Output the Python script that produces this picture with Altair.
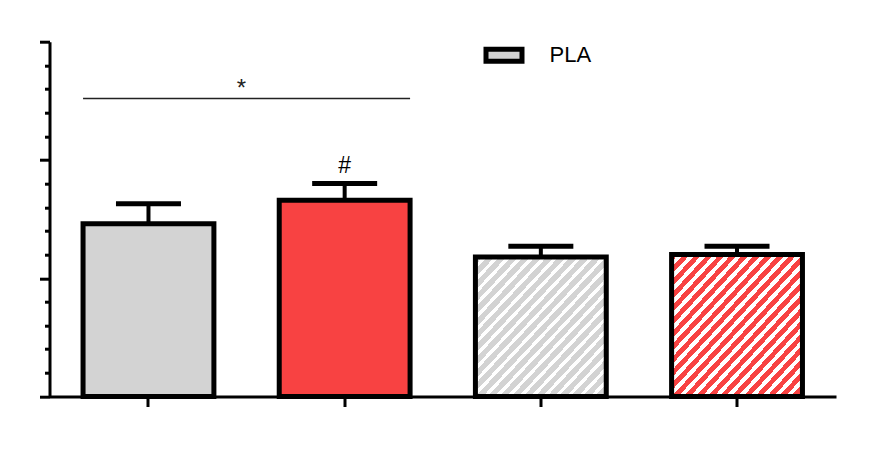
import altair as alt
import pandas as pd

# ---- data ----
groups = ["PLA", "SUP", "PLA-T", "SUP-T"]
means = [1.46, 1.66, 1.18, 1.20]
errs = [1.63, 1.80, 1.27, 1.27]
marks = ["", "#", "", ""]
legend_labels = ["PLA"]
y_ticks = [0.0, 0.2, 0.4, 0.6, 0.8, 1.0, 1.2, 1.4, 1.6, 1.8, 2.0,
           2.2, 2.4, 2.6, 2.8, 3.0]
sig_start = ["PLA"]
sig_end = ["SUP"]
sig_y = [2.52]
sig_label = ["*"]

GREY = "#d3d3d3"
RED = "#f84242"
FONT = "Liberation Sans"

df = pd.DataFrame({"group": groups, "mean": means, "err": errs, "mark": marks})
sig = pd.DataFrame({"start": sig_start, "end": sig_end, "y": sig_y, "label": sig_label})


def stripes(color, frac, n=22):
    stops = []
    for k in range(n):
        a = k / n
        b = (k + frac) / n
        c = (k + 1) / n
        stops += [
            alt.GradientStop(color=color, offset=a),
            alt.GradientStop(color=color, offset=b),
            alt.GradientStop(color="white", offset=b),
            alt.GradientStop(color="white", offset=c),
        ]
    return alt.LinearGradient(gradient="linear", stops=stops, x1=0, y1=0, x2=1, y2=1)


xscale = alt.Scale(domain=groups, paddingInner=0.333, paddingOuter=0.171)
yscale = alt.Scale(domain=[0, 3], nice=False, zero=True)

x_enc = alt.X("group:N", scale=xscale, sort=groups,
              axis=alt.Axis(labels=False, title=None, grid=False, ticks=True,
                            tickSize=10, tickWidth=3, tickColor="black",
                            domainWidth=3, domainColor="black"))
x_plain = alt.X("group:N", scale=xscale, sort=groups)

y_axis = alt.Axis(values=y_ticks, tickCount=40, labels=False, labelOverlap=False,
                  title=None, grid=False,
                  domainWidth=3, domainColor="black", tickColor="black", tickWidth=3,
                  tickSize={"condition": {"test": "abs(datum.value - round(datum.value)) < 0.001",
                                          "value": 10}, "value": 5})

solid = alt.Chart(df).transform_filter(
    alt.FieldOneOfPredicate(field="group", oneOf=["PLA", "SUP"])
).mark_bar(stroke="black", strokeWidth=5, opacity=1).encode(
    x=x_enc,
    y=alt.Y("mean:Q", scale=yscale, axis=y_axis),
    fill=alt.Fill("group:N",
                  scale=alt.Scale(domain=["PLA", "SUP"], range=[GREY, RED]),
                  legend=alt.Legend(title=None, orient="none", legendX=440, legendY=-1,
                                    values=legend_labels,
                                    symbolType="M-1.5,-0.5H1.5V0.5H-1.5Z",
                                    symbolSize=576, symbolStrokeColor="black",
                                    symbolStrokeWidth=5, symbolOpacity=1,
                                    labelFontSize=22, labelFont=FONT, labelColor="black",
                                    labelOffset=31, padding=0)),
)

hatch_grey = alt.Chart(df).transform_filter(alt.datum.group == "PLA-T").mark_bar(
    fill=stripes(GREY, 0.62), stroke="black", strokeWidth=5, opacity=1
).encode(x=x_plain, y=alt.Y("mean:Q", scale=yscale))

hatch_red = alt.Chart(df).transform_filter(alt.datum.group == "SUP-T").mark_bar(
    fill=stripes(RED, 0.55), stroke="black", strokeWidth=5, opacity=1
).encode(x=x_plain, y=alt.Y("mean:Q", scale=yscale))

stems = alt.Chart(df).mark_rule(color="black", strokeWidth=4).encode(
    x=x_plain, y=alt.Y("mean:Q", scale=yscale), y2="err:Q")

caps = alt.Chart(df).mark_tick(color="black", thickness=5, size=65, opacity=1).encode(
    x=x_plain, y=alt.Y("err:Q", scale=yscale))

hash_text = alt.Chart(df).mark_text(font=FONT, fontSize=23, dy=-11, baseline="alphabetic",
                                    color="black").encode(
    x=x_plain, y=alt.Y("err:Q", scale=yscale), text="mark:N")

sig_rule = alt.Chart(sig).mark_rule(color="#222222", strokeWidth=1.6).encode(
    x=alt.X("start:N", scale=xscale, bandPosition=0),
    x2=alt.X2("end:N", bandPosition=1),
    y=alt.Y("y:Q", scale=yscale))

sig_text = alt.Chart(sig).mark_text(font=FONT, fontSize=24, dx=27.5, dy=-2,
                                    baseline="alphabetic", color="#222222").encode(
    x=alt.X("start:N", scale=xscale, bandPosition=1),
    y=alt.Y("y:Q", scale=yscale), text="label:N")

chart = alt.layer(solid, hatch_grey, hatch_red, stems, caps, hash_text, sig_rule, sig_text).properties(
    width=786.5, height=354.8,
    autosize=alt.AutoSizeParams(type="none"),
    padding={"left": 41.5, "top": 33.7, "right": 36, "bottom": 65.5},
    background="white",
).configure_view(stroke=None)

chart.save("out.html", embed_options={"renderer": "svg", "actions": False})
